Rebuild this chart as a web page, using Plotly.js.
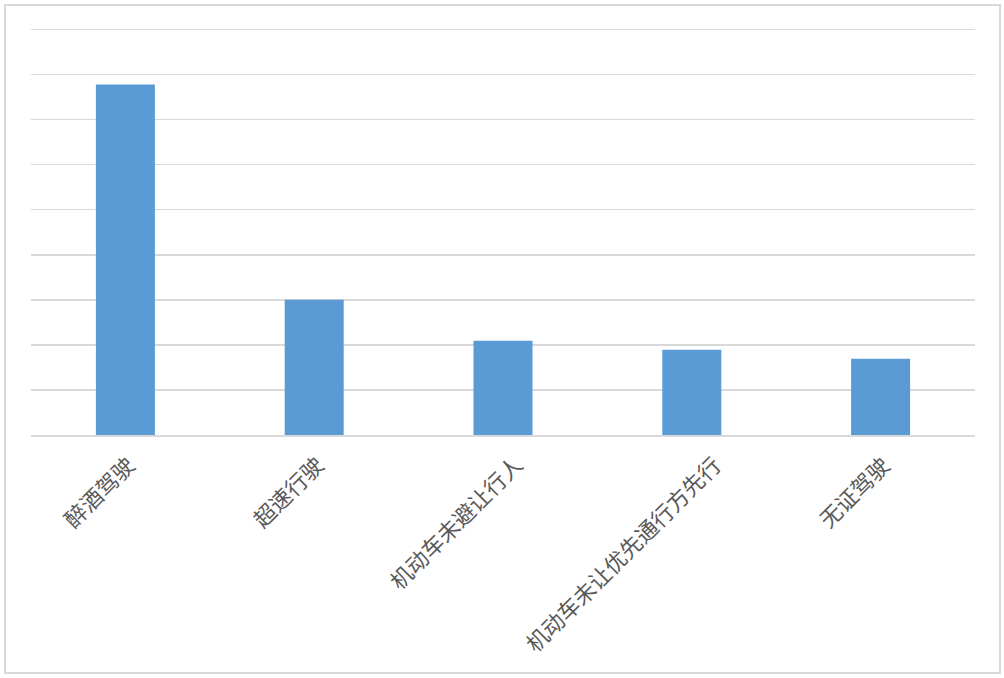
<!DOCTYPE html>
<html>
<head>
<meta charset="utf-8">
<script src="https://cdn.plot.ly/plotly-3.0.1.min.js"></script>
<style>
html,body{margin:0;padding:0;background:#fff;}
#chart{width:1004px;height:678px;}
</style>
</head>
<body>
<div id="chart"></div>
<script>
var categories = ["醉酒驾驶", "超速行驶", "机动车未避让行人", "机动车未让优先通行方先行", "无证驾驶"];
var values = [7.78, 3.0, 2.09, 1.89, 1.69];
var yTicks = [0, 1, 2, 3, 4, 5, 6, 7, 8, 9];

var W = 1004, H = 678;
var m = {l: 31, r: 29, t: 25, b: 243};
var pw = W - m.l - m.r, ph = H - m.t - m.b;
function px(x){ return (x - m.l) / pw; }
function py(y){ return (H - m.b - y) / ph; }

var trace = {
  type: "bar",
  x: categories,
  y: values,
  marker: {color: "#5b9bd5"},
  hoverinfo: "x+y"
};

var labelFont = {family: "'Noto Sans CJK SC', sans-serif", color: "#595959", size: 22};
var annotations = categories.map(function(c){
  return {
    x: c, y: 0, xref: "x", yref: "paper",
    text: c, showarrow: false, textangle: -45,
    xanchor: "right", yanchor: "top",
    xshift: 2.5 * c.length + 6.5, yshift: -12,
    borderpad: 0, font: labelFont
  };
});

var layout = {
  width: W, height: H,
  margin: m,
  paper_bgcolor: "#ffffff",
  plot_bgcolor: "#ffffff",
  bargap: 0.6875,
  showlegend: false,
  font: labelFont,
  xaxis: {
    type: "category",
    showticklabels: false,
    showgrid: false,
    showline: true,
    linecolor: "#d9d9d9",
    linewidth: 2,
    ticks: "",
    fixedrange: true
  },
  yaxis: {
    range: [0, 9.1],
    tickvals: yTicks,
    showticklabels: false,
    showgrid: true,
    gridcolor: "#d9d9d9",
    gridwidth: 1.5,
    zeroline: false,
    showline: false,
    ticks: "",
    fixedrange: true
  },
  annotations: annotations,
  shapes: [{
    type: "rect",
    xref: "paper", yref: "paper",
    x0: px(5), x1: px(1000), y0: py(673), y1: py(5),
    line: {color: "#d9d9d9", width: 2},
    fillcolor: "rgba(0,0,0,0)",
    layer: "below"
  }]
};

Plotly.newPlot("chart", [trace], layout, {displayModeBar: false, staticPlot: true});
</script>
</body>
</html>
